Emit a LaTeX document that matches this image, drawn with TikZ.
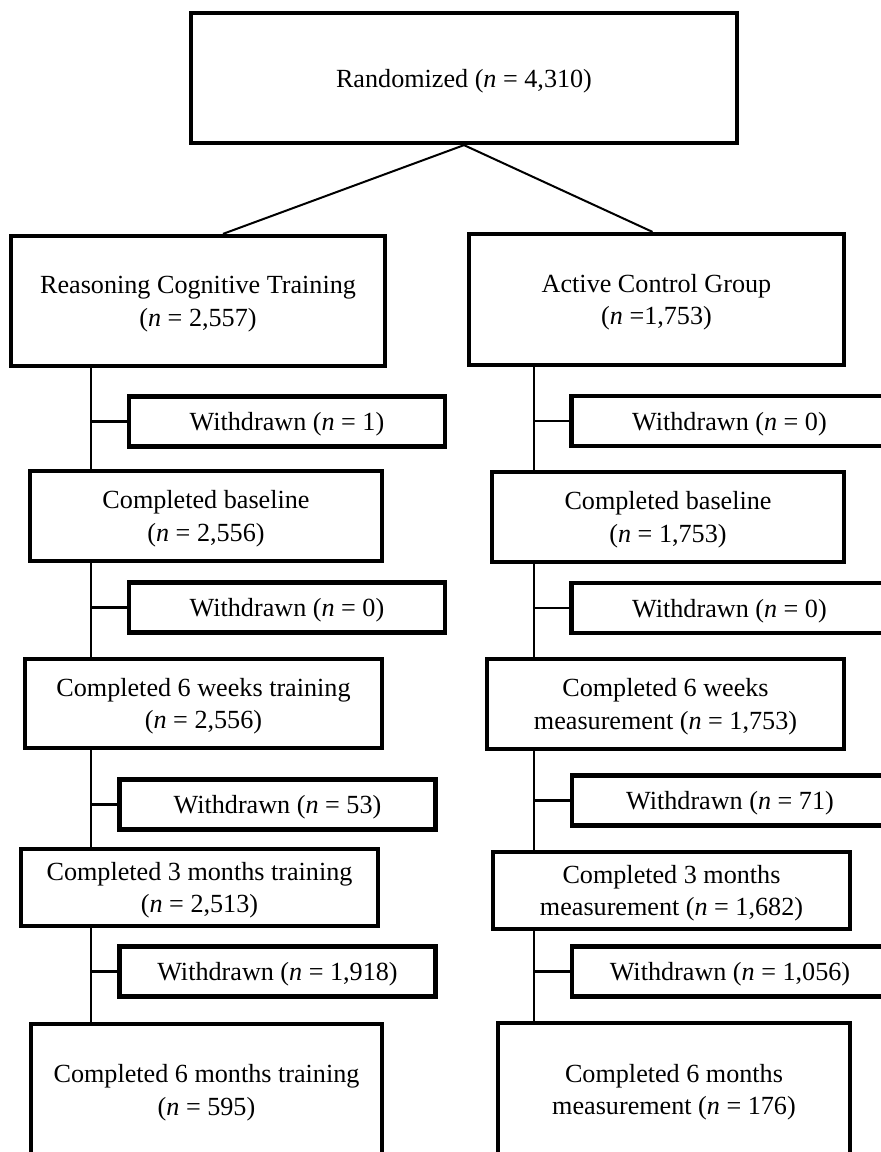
\documentclass[tikz,border=0pt]{standalone}
\usepackage{fontspec}
\setmainfont{Liberation Serif}
\tikzset{
  stage/.style={draw, line width=0.105cm, align=center, inner sep=0pt, text depth=0pt},
  wdbox/.style={stage, minimum width=7.9cm, minimum height=1.25cm},
  link/.style={line width=0.05cm}
}
\begin{document}
\begin{tikzpicture}[x=0.025cm, y=-0.025cm,
    every node/.style={font=\fontsize{18.6}{23.3}\selectfont}]
  \clip (0,0) rectangle (881,1152);
  \fill[white] (0,0) rectangle (881,1152);

  % Randomisation
  \node[stage, minimum width=13.65cm, minimum height=3.25cm] (rand) at (464,78) {Randomized (\textit{n} = 4,310)};

  % Two arms
  \node[stage, minimum width=9.35cm, minimum height=3.25cm] (rct) at (198,301) {Reasoning Cognitive Training\\(\textit{n} = 2,557)};
  \node[stage, minimum width=9.375cm, minimum height=3.275cm] (acg) at (656.5,299.5) {Active Control Group\\(\textit{n} =1,753)};

  % Training arm
  \node[stage, minimum width=8.8cm, minimum height=2.25cm]   (blL) at (206,516)     {Completed baseline\\(\textit{n} = 2,556)};
  \node[stage, minimum width=8.925cm, minimum height=2.225cm] (wkL) at (203.5,703.5) {Completed 6 weeks training\\(\textit{n} = 2,556)};
  \node[stage, minimum width=8.925cm, minimum height=1.925cm] (m3L) at (199.5,887.5) {Completed 3 months training\\(\textit{n} = 2,513)};
  \node[stage, minimum width=8.775cm, minimum height=3.3cm]   (m6L) at (206.5,1090)  {Completed 6 months training\\(\textit{n} = 595)};
  \node[wdbox] (wdL1) at (287,421.5)   {Withdrawn (\textit{n} = 1)};
  \node[wdbox] (wdL2) at (287,607.5)   {Withdrawn (\textit{n} = 0)};
  \node[wdbox] (wdL3) at (277.5,804.5) {Withdrawn (\textit{n} = 53)};
  \node[wdbox] (wdL4) at (277.5,971.5) {Withdrawn (\textit{n} = 1,918)};

  % Control arm
  \node[stage, minimum width=8.8cm, minimum height=2.25cm]   (blR) at (668,517)     {Completed baseline\\(\textit{n} = 1,753)};
  \node[stage, minimum width=8.925cm, minimum height=2.25cm]  (wkR) at (665.5,704)   {Completed 6 weeks\\measurement (\textit{n} = 1,753)};
  \node[stage, minimum width=8.925cm, minimum height=1.925cm] (m3R) at (671.5,890.5) {Completed 3 months\\measurement (\textit{n} = 1,682)};
  \node[stage, minimum width=8.8cm, minimum height=3.325cm]   (m6R) at (674,1089.5)  {Completed 6 months\\measurement (\textit{n} = 176)};
  \node[wdbox] (wdR1) at (729.5,421)   {Withdrawn (\textit{n} = 0)};
  \node[wdbox] (wdR2) at (729.5,608)   {Withdrawn (\textit{n} = 0)};
  \node[wdbox] (wdR3) at (730,800.5)   {Withdrawn (\textit{n} = 71)};
  \node[wdbox] (wdR4) at (730,971.5)   {Withdrawn (\textit{n} = 1,056)};

  % Connectors
  \draw[link] (rand.south) -- ([xshift=0.625cm]rct.north);
  \draw[link] (rand.south) -- ([xshift=-0.1cm]acg.north);
  \coordinate (lx) at (91,0);
  \coordinate (rx) at (534,0);
  \foreach \up/\dn/\wd/\ax/\lw in {rct/blL/wdL1/lx/0.035, blL/wkL/wdL2/lx/0.065,
      wkL/m3L/wdL3/lx/0.065, m3L/m6L/wdL4/lx/0.065, acg/blR/wdR1/rx/0.035,
      blR/wkR/wdR2/rx/0.065, wkR/m3R/wdR3/rx/0.065, m3R/m6R/wdR4/rx/0.065}{
    \draw[line width=\lw cm] (\up.south -| \ax) -- (\dn.north -| \ax);
    \draw[line width=0.07cm] (\ax |- \wd.west) -- (\wd.west);
  }
\end{tikzpicture}
\end{document}
